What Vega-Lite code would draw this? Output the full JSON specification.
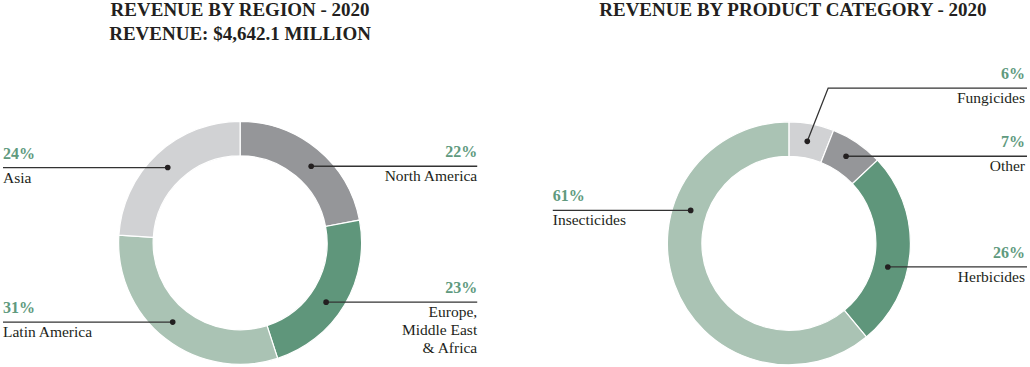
{
  "$schema": "https://vega.github.io/schema/vega-lite/v6.json",
  "width": 1030,
  "height": 367,
  "padding": 0,
  "autosize": {"type": "fit", "contains": "padding"},
  "background": "white",
  "config": {"view": {"stroke": null}, "text": {"font": "Liberation Serif"}},
  "datasets": {
    "slices": [
      {"chart": "region", "category": "North America", "pct": 22, "order": 1},
      {"chart": "region", "category": "Europe, Middle East & Africa", "pct": 23, "order": 2},
      {"chart": "region", "category": "Latin America", "pct": 31, "order": 3},
      {"chart": "region", "category": "Asia", "pct": 24, "order": 4},
      {"chart": "product", "category": "Fungicides", "pct": 6, "order": 1},
      {"chart": "product", "category": "Other", "pct": 7, "order": 2},
      {"chart": "product", "category": "Herbicides", "pct": 26, "order": 3},
      {"chart": "product", "category": "Insecticides", "pct": 61, "order": 4}
    ],
    "leaders": [
      {"category": "North America", "seq": 0, "px": 310, "py": 166.7},
      {"category": "North America", "seq": 1, "px": 477, "py": 166.7},
      {"category": "Europe, Middle East & Africa", "seq": 0, "px": 325, "py": 303},
      {"category": "Europe, Middle East & Africa", "seq": 1, "px": 477, "py": 303},
      {"category": "Latin America", "seq": 0, "px": 170.7, "py": 323},
      {"category": "Latin America", "seq": 1, "px": 0, "py": 323},
      {"category": "Asia", "seq": 0, "px": 165.7, "py": 168},
      {"category": "Asia", "seq": 1, "px": 0, "py": 168},
      {"category": "Fungicides", "seq": 0, "px": 809, "py": 141.7},
      {"category": "Fungicides", "seq": 1, "px": 830, "py": 88.3},
      {"category": "Fungicides", "seq": 2, "px": 1030, "py": 88.3},
      {"category": "Other", "seq": 0, "px": 848, "py": 156.7},
      {"category": "Other", "seq": 1, "px": 1030, "py": 156.7},
      {"category": "Herbicides", "seq": 0, "px": 890, "py": 267.7},
      {"category": "Herbicides", "seq": 1, "px": 1030, "py": 267.7},
      {"category": "Insecticides", "seq": 0, "px": 691.7, "py": 211},
      {"category": "Insecticides", "seq": 1, "px": 553, "py": 211}
    ],
    "labels": [
      {"category": "North America", "pct": "22%", "name": ["North America"], "side": "right", "lx": 477, "ly": 166.7},
      {"category": "Europe, Middle East & Africa", "pct": "23%", "name": ["Europe,", "Middle East", "& Africa"], "side": "right", "lx": 477, "ly": 303},
      {"category": "Latin America", "pct": "31%", "name": ["Latin America"], "side": "left", "lx": 0, "ly": 323},
      {"category": "Asia", "pct": "24%", "name": ["Asia"], "side": "left", "lx": 0, "ly": 168},
      {"category": "Fungicides", "pct": "6%", "name": ["Fungicides"], "side": "right", "lx": 1028, "ly": 88.3},
      {"category": "Other", "pct": "7%", "name": ["Other"], "side": "right", "lx": 1028, "ly": 156.7},
      {"category": "Herbicides", "pct": "26%", "name": ["Herbicides"], "side": "right", "lx": 1028, "ly": 267.7},
      {"category": "Insecticides", "pct": "61%", "name": ["Insecticides"], "side": "left", "lx": 553, "ly": 211}
    ],
    "titles": [
      {"text": "REVENUE BY REGION - 2020", "tx": 238.5, "ty": 16},
      {"text": "REVENUE: $4,642.1 MILLION", "tx": 238.5, "ty": 40},
      {"text": "REVENUE BY PRODUCT CATEGORY - 2020", "tx": 794.5, "ty": 16}
    ]
  },
  "layer": [
    {
      "data": {"name": "slices"},
      "transform": [{"filter": "datum.chart === 'region'"}],
      "mark": {"type": "arc", "radius": 121.5, "radius2": 87, "stroke": "white", "strokeWidth": 1.2},
      "encoding": {
        "theta": {"field": "pct", "type": "quantitative", "stack": true},
        "order": {"field": "order", "type": "quantitative"},
        "color": {
          "field": "category", "type": "nominal", "legend": null,
          "scale": {
            "domain": ["North America", "Europe, Middle East & Africa", "Latin America", "Asia", "Fungicides", "Other", "Herbicides", "Insecticides"],
            "range": ["#959699", "#5f967b", "#aac3b4", "#d1d2d4", "#d1d2d4", "#959699", "#5f967b", "#aac3b4"]
          }
        },
        "x": {"datum": 238.5, "type": "quantitative", "scale": {"domain": [0, 1030], "nice": false, "zero": false}, "axis": null},
        "y": {"datum": 243.5, "type": "quantitative", "scale": {"domain": [0, 367], "reverse": true, "nice": false, "zero": false}, "axis": null}
      }
    },
    {
      "data": {"name": "slices"},
      "transform": [{"filter": "datum.chart === 'product'"}],
      "mark": {"type": "arc", "radius": 121.5, "radius2": 87, "stroke": "white", "strokeWidth": 1.2},
      "encoding": {
        "theta": {"field": "pct", "type": "quantitative", "stack": true},
        "order": {"field": "order", "type": "quantitative"},
        "color": {"field": "category", "type": "nominal", "legend": null},
        "x": {"datum": 790.5, "type": "quantitative"},
        "y": {"datum": 244, "type": "quantitative"}
      }
    },
    {
      "data": {"name": "leaders"},
      "mark": {"type": "line", "color": "#333333", "strokeWidth": 1.3},
      "encoding": {
        "x": {"field": "px", "type": "quantitative"},
        "y": {"field": "py", "type": "quantitative"},
        "detail": {"field": "category"},
        "order": {"field": "seq", "type": "quantitative"}
      }
    },
    {
      "data": {"name": "leaders"},
      "transform": [{"filter": "datum.seq === 0"}],
      "mark": {"type": "circle", "color": "#231f20", "opacity": 1, "size": 32},
      "encoding": {
        "x": {"field": "px", "type": "quantitative"},
        "y": {"field": "py", "type": "quantitative"}
      }
    },
    {
      "data": {"name": "labels"},
      "transform": [{"filter": "datum.side === 'left'"}],
      "mark": {"type": "text", "align": "left", "baseline": "alphabetic", "dy": -9, "fontSize": 16, "fontWeight": "bold", "color": "#609a7e"},
      "encoding": {
        "x": {"field": "lx", "type": "quantitative"},
        "y": {"field": "ly", "type": "quantitative"},
        "text": {"field": "pct"}
      }
    },
    {
      "data": {"name": "labels"},
      "transform": [{"filter": "datum.side === 'right'"}],
      "mark": {"type": "text", "align": "right", "baseline": "alphabetic", "dy": -9, "fontSize": 16, "fontWeight": "bold", "color": "#609a7e"},
      "encoding": {
        "x": {"field": "lx", "type": "quantitative"},
        "y": {"field": "ly", "type": "quantitative"},
        "text": {"field": "pct"}
      }
    },
    {
      "data": {"name": "labels"},
      "transform": [{"filter": "datum.side === 'left'"}],
      "mark": {"type": "text", "align": "left", "baseline": "alphabetic", "dy": 15, "fontSize": 15.5, "lineHeight": 18, "color": "#231f20"},
      "encoding": {
        "x": {"field": "lx", "type": "quantitative"},
        "y": {"field": "ly", "type": "quantitative"},
        "text": {"field": "name"}
      }
    },
    {
      "data": {"name": "labels"},
      "transform": [{"filter": "datum.side === 'right'"}],
      "mark": {"type": "text", "align": "right", "baseline": "alphabetic", "dy": 15, "fontSize": 15.5, "lineHeight": 18, "color": "#231f20"},
      "encoding": {
        "x": {"field": "lx", "type": "quantitative"},
        "y": {"field": "ly", "type": "quantitative"},
        "text": {"field": "name"}
      }
    },
    {
      "data": {"name": "titles"},
      "mark": {"type": "text", "align": "center", "baseline": "alphabetic", "fontSize": 19, "fontWeight": "bold", "color": "#231f20"},
      "encoding": {
        "x": {"field": "tx", "type": "quantitative"},
        "y": {"field": "ty", "type": "quantitative"},
        "text": {"field": "text"}
      }
    }
  ]
}
